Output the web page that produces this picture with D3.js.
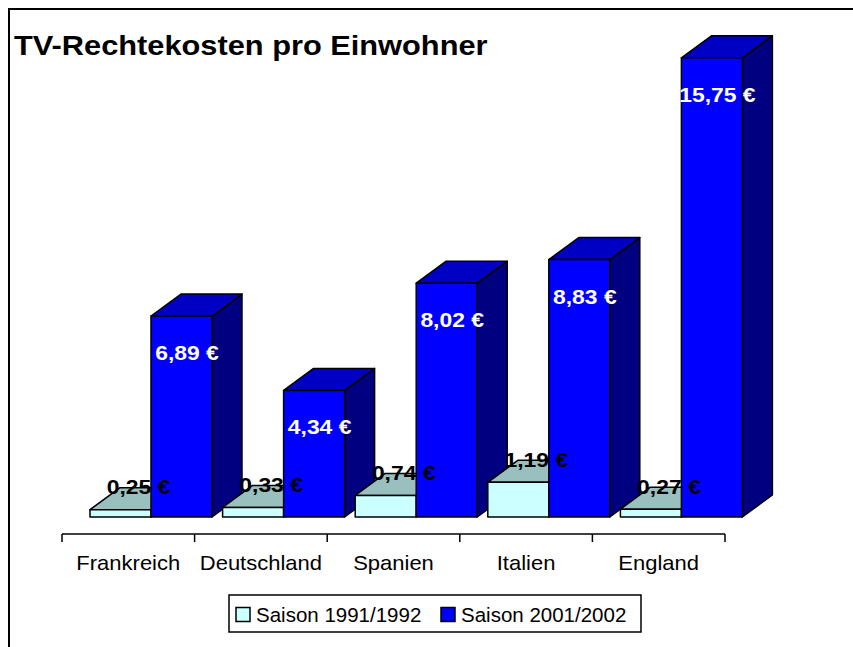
<!DOCTYPE html>
<html>
<head>
<meta charset="utf-8">
<script src="https://cdn.jsdelivr.net/npm/d3@7"></script>
<style>
  body { margin: 0; background: #fff; }
  svg { display: block; font-family: Arial, "Liberation Sans", sans-serif; }
</style>
</head>
<body>
<svg width="853" height="647"></svg>
<script>
var categories = ["Frankreich", "Deutschland", "Spanien", "Italien", "England"];
var series = ["Saison 1991/1992", "Saison 2001/2002"];
var values1991 = [0.25, 0.33, 0.74, 1.19, 0.27];
var values2001 = [6.89, 4.34, 8.02, 8.83, 15.75];

var svg = d3.select("svg"),
    width = +svg.attr("width"),
    height = +svg.attr("height");

// face colours: front, top, side
var colors = [
  {front: "#ccffff", top: "#99c0bf", side: "#669999"},
  {front: "#0000ff", top: "#0000c4", side: "#000080"}
];

var dx = 30, dy = -22, barW = 61, offset = 28;

var x = d3.scaleBand()
    .domain(categories)
    .range([62, 725]);

var y = d3.scaleLinear()
    .domain([0, 16])
    .range([517, 50.5]);

var fmt = function(v) { return d3.format(".2f")(v).replace(".", ",") + " \u20ac"; };

// the original text is a bit wider than Arial
function stretch(px, py, sx) {
  return "translate(" + px + "," + py + ") scale(" + sx + ",1)";
}

// frame
svg.append("rect")
    .attr("x", 9).attr("y", 9)
    .attr("width", 900).attr("height", 700)
    .attr("fill", "none")
    .attr("stroke", "#000")
    .attr("stroke-width", 2);

svg.append("text")
    .attr("transform", stretch(14, 55, 1.14))
    .attr("font-size", 27)
    .attr("font-weight", "bold")
    .text("TV-Rechtekosten pro Einwohner");

// bars
var data = [];
categories.forEach(function(c, i) {
  data.push({c: c, s: 0, v: values1991[i]});
  data.push({c: c, s: 1, v: values2001[i]});
});

var bars = svg.append("g").selectAll("g")
    .data(data)
  .enter().append("g");

bars.each(function(d) {
  var g = d3.select(this),
      x0 = x(d.c) + offset + d.s * barW,
      x1 = x0 + barW,
      y0 = y(0),
      y1 = y(d.v),
      col = colors[d.s];

  g.append("path")
      .attr("d", "M" + x1 + "," + y0 + "L" + (x1 + dx) + "," + (y0 + dy) +
        "L" + (x1 + dx) + "," + (y1 + dy) + "L" + x1 + "," + y1 + "Z")
      .attr("fill", col.side);
  g.append("path")
      .attr("d", "M" + x0 + "," + y1 + "L" + (x0 + dx) + "," + (y1 + dy) +
        "L" + (x1 + dx) + "," + (y1 + dy) + "L" + x1 + "," + y1 + "Z")
      .attr("fill", col.top);
  g.append("rect")
      .attr("x", x0).attr("y", y1)
      .attr("width", barW).attr("height", y0 - y1)
      .attr("fill", col.front);
  g.selectAll("path, rect")
      .attr("stroke", "#000")
      .attr("stroke-width", 1.5)
      .attr("stroke-linejoin", "round");
});

// value labels
svg.append("g").selectAll("text")
    .data(data)
  .enter().append("text")
    .attr("transform", function(d) {
      var cx = x(d.c) + offset + d.s * barW + barW / 2;
      return d.s ? stretch(cx + 5.5, y(d.v) + 44, 1.09)
                 : stretch(cx + 18, y(d.v) - 15.5, 1.09);
    })
    .attr("text-anchor", "middle")
    .attr("font-size", 21)
    .attr("font-weight", "bold")
    .attr("fill", function(d) { return d.s ? "#fff" : "#000"; })
    .text(function(d) { return fmt(d.v); });

// category axis
var axis = svg.append("g");
var axisY = 534;
axis.append("line")
    .attr("x1", x.range()[0]).attr("x2", x.range()[1])
    .attr("y1", axisY).attr("y2", axisY)
    .attr("stroke", "#000").attr("stroke-width", 1.5);
axis.selectAll(".tick")
    .data(categories.map(function(c) { return x(c); }).concat([x.range()[1]]))
  .enter().append("line")
    .attr("x1", function(d) { return d; }).attr("x2", function(d) { return d; })
    .attr("y1", axisY).attr("y2", axisY + 8)
    .attr("stroke", "#000").attr("stroke-width", 1.5);
axis.selectAll("text")
    .data(categories)
  .enter().append("text")
    .attr("transform", function(d) { return stretch(x(d) + x.bandwidth() / 2, 570, 1.1); })
    .attr("text-anchor", "middle")
    .attr("font-size", 20)
    .text(function(d) { return d; });

// legend
var legend = svg.append("g");
legend.append("rect")
    .attr("x", 229).attr("y", 595)
    .attr("width", 412).attr("height", 37)
    .attr("fill", "#fff").attr("stroke", "#000").attr("stroke-width", 1.5);
var lx = [236, 441];
series.forEach(function(s, i) {
  legend.append("rect")
      .attr("x", lx[i]).attr("y", 607.5)
      .attr("width", 14).attr("height", 14)
      .attr("fill", colors[i].front)
      .attr("stroke", "#000").attr("stroke-width", 1.5);
  legend.append("text")
      .attr("x", lx[i] + 20).attr("y", 622)
      .attr("font-size", 20.5)
      .text(s);
});
</script>
</body>
</html>
